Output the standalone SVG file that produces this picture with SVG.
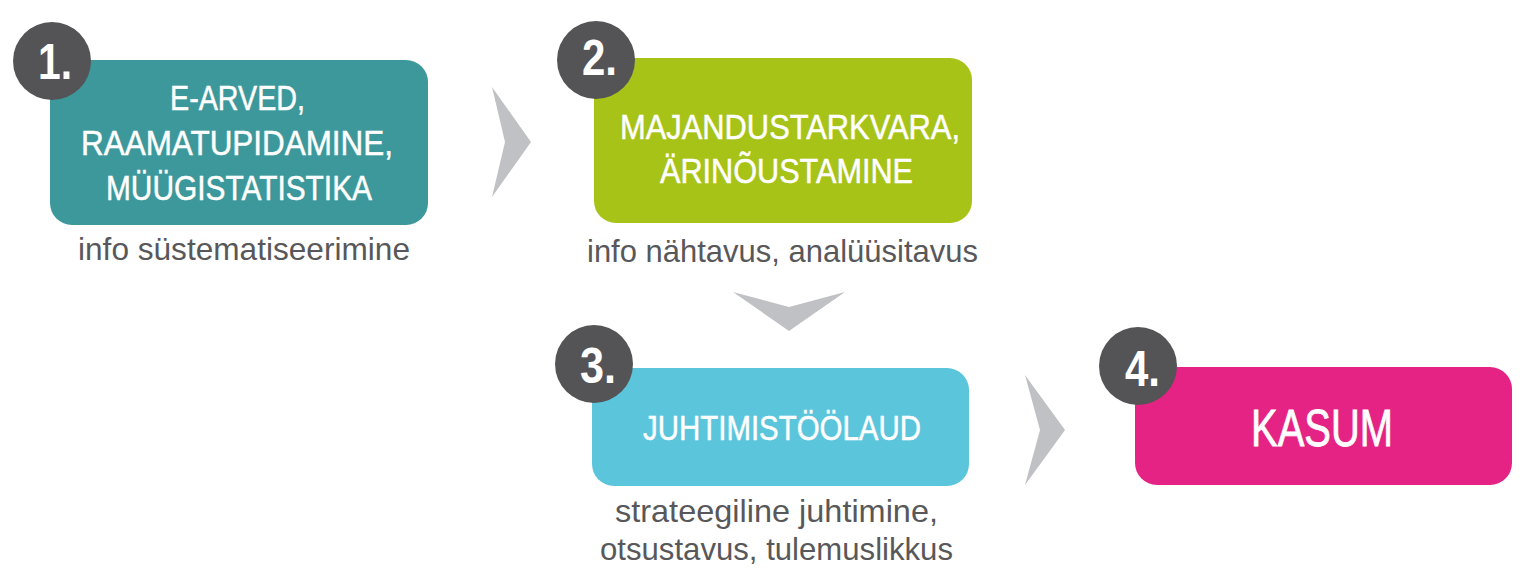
<svg xmlns="http://www.w3.org/2000/svg" width="1524" height="583" viewBox="0 0 1524 583">
<style>
.box-t{font-family:"Liberation Sans",Arial,sans-serif;font-size:35px;fill:#ffffff;stroke:#ffffff;stroke-width:0.5}
.cap{font-family:"Liberation Sans",Arial,sans-serif;font-size:32px;fill:#58585a}
.num{font-family:"Liberation Sans",Arial,sans-serif;font-size:50px;font-weight:bold;fill:#ffffff}
.badge{fill:#545456}
.chev{fill:#c0c1c5}
</style>
<rect width="1524" height="583" fill="#ffffff"/>
<g id="connectors">
<polygon class="chev" points="492,87 531,142 492,197 505,142"/>
<polygon class="chev" points="733,292 789,307 845,292 789,331"/>
<polygon class="chev" points="1025,375 1065,430 1025,485 1040,430"/>
</g>
<g id="node1">
<rect x="50" y="60" width="378" height="165" rx="22" fill="#3d989b"/>
<circle class="badge" cx="52" cy="61" r="39"/>
<text class="num" x="38" y="79" textLength="34" lengthAdjust="spacingAndGlyphs">1.</text>
<text class="box-t" x="170" y="110" textLength="135" lengthAdjust="spacingAndGlyphs">E-ARVED,</text>
<text class="box-t" x="81" y="155" textLength="312" lengthAdjust="spacingAndGlyphs">RAAMATUPIDAMINE,</text>
<text class="box-t" x="106" y="200" textLength="266" lengthAdjust="spacingAndGlyphs">MÜÜGISTATISTIKA</text>
<text class="cap" x="78" y="260" textLength="332" lengthAdjust="spacingAndGlyphs">info süstematiseerimine</text>
</g>
<g id="node2">
<rect x="594" y="58" width="378" height="165" rx="22" fill="#a8c318"/>
<circle class="badge" cx="596" cy="60" r="39"/>
<text class="num" x="582" y="75" textLength="35" lengthAdjust="spacingAndGlyphs">2.</text>
<text class="box-t" x="620" y="139" textLength="340" lengthAdjust="spacingAndGlyphs">MAJANDUSTARKVARA,</text>
<text class="box-t" x="660" y="183" textLength="253" lengthAdjust="spacingAndGlyphs">ÄRINÕUSTAMINE</text>
<text class="cap" x="587" y="262" textLength="391" lengthAdjust="spacingAndGlyphs">info nähtavus, analüüsitavus</text>
</g>
<g id="node3">
<rect x="592" y="368" width="377" height="118" rx="22" fill="#5bc5dc"/>
<circle class="badge" cx="594" cy="364" r="39"/>
<text class="num" x="580" y="383" textLength="36" lengthAdjust="spacingAndGlyphs">3.</text>
<text class="box-t" x="643" y="440" textLength="278" lengthAdjust="spacingAndGlyphs">JUHTIMISTÖÖLAUD</text>
<text class="cap" x="615" y="522" textLength="323" lengthAdjust="spacingAndGlyphs">strateegiline juhtimine,</text>
<text class="cap" x="600" y="560" textLength="353" lengthAdjust="spacingAndGlyphs">otsustavus, tulemuslikkus</text>
</g>
<g id="node4">
<rect x="1135" y="367" width="377" height="118" rx="22" fill="#e42385"/>
<circle class="badge" cx="1138" cy="366" r="39"/>
<text class="num" x="1125" y="386" textLength="35" lengthAdjust="spacingAndGlyphs">4.</text>
<text class="box-t" x="1251" y="446" style="font-size:52px;stroke-width:0.8" textLength="142" lengthAdjust="spacingAndGlyphs">KASUM</text>
</g>
</svg>
